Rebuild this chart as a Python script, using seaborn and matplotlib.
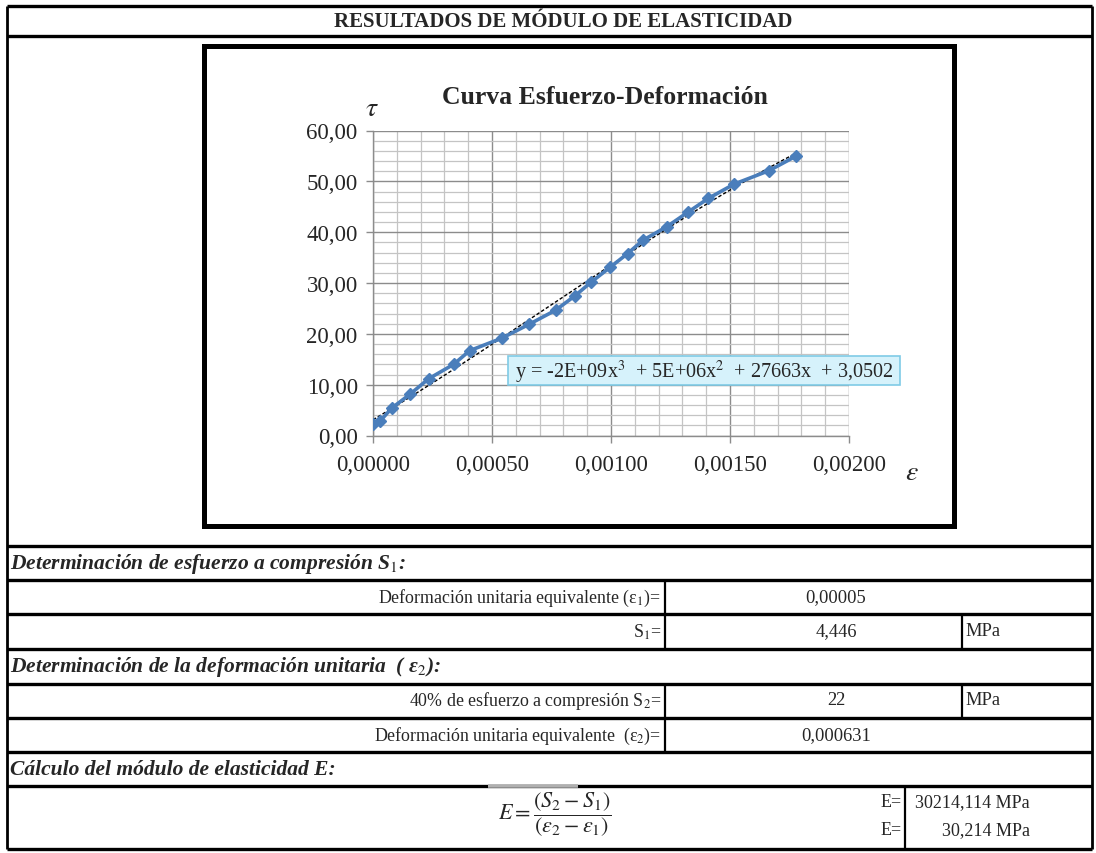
import numpy as np
import matplotlib
matplotlib.use("Agg")
import matplotlib.pyplot as plt
from matplotlib.patches import Rectangle
from matplotlib.ticker import FuncFormatter, MultipleLocator
import seaborn as sns

# Stress-strain test readings
strain = [0.0, 0.000029, 0.000079, 0.000155, 0.000234, 0.000339, 0.000406,
          0.000540, 0.000656, 0.000767, 0.000848, 0.000918, 0.000995, 0.001070,
          0.001135, 0.001234, 0.001322, 0.001409, 0.001518, 0.001664, 0.001776]
stress = [2.3, 2.8, 5.4, 8.1, 11.17, 14.0, 16.69, 19.12, 21.88, 24.64, 27.46,
          30.22, 33.05, 35.8, 38.44, 41.06, 43.89, 46.65, 49.47, 52.1, 54.93]

x_ticks = [0.0, 0.0005, 0.0010, 0.0015, 0.0020]
y_ticks = [0, 10, 20, 30, 40, 50, 60]

trend_label = "y = -2E+09x$^{3}$  + 5E+06x$^{2}$  + 27663x  + 3,0502"

# Summary table contents
sheet_title = "RESULTADOS DE MÓDULO DE ELASTICIDAD"
chart_title = "Curva Esfuerzo-Deformación"
section_1 = "Determinación de esfuerzo a compresión S$_{\\mathit{1}}$:"
section_2 = "Determinación de la deformación unitaria  ( ε$_{\\mathit{2}}$):"
section_3 = "Cálculo del módulo de elasticidad E:"
row_labels = ["Deformación unitaria equivalente (ε$_{1}$)=",
              "S$_{1}$=",
              "40% de esfuerzo a compresión S$_{2}$=",
              "Deformación unitaria equivalente  (ε$_{2}$)="]
row_values = ["0,00005", "4,446", "22", "0,000631"]
row_units = ["", "MPa", "MPa", ""]
modulus_values = ["30214,114 MPa", "30,214 MPa"]

sns.set_theme(style="white")
plt.rcParams["font.family"] = ["Liberation Serif", "DejaVu Serif"]
plt.rcParams["mathtext.fontset"] = "stix"

W, H = 1096, 854
fig = plt.figure(figsize=(W / 100, H / 100), dpi=100)
fig.patch.set_facecolor("white")

# Chart
x0p, x1p, y0p, y1p = 373, 849, 131.5, 436.5
ax = fig.add_axes([x0p / W, 1 - y1p / H, (x1p - x0p) / W, (y1p - y0p) / H])
ax.set_facecolor("white")

coef = np.polyfit(strain, stress, 3)
xs = np.linspace(0, max(strain), 200)
ax.plot(xs, np.polyval(coef, xs), color="black", lw=1.0, ls=(0, (2.5, 1.5)), zorder=4)

sns.lineplot(x=strain, y=stress, ax=ax, color="#4a7ebb", lw=2.6, marker="D",
             markersize=6.5, markeredgecolor="#4a7ebb", markeredgewidth=1,
             zorder=5, sort=False)

ax.set_xlim(0, 0.002)
ax.set_ylim(0, 60)
ax.xaxis.set_minor_locator(MultipleLocator(0.0001))
ax.yaxis.set_minor_locator(MultipleLocator(2))
ax.set_xticks(x_ticks)
ax.set_yticks(y_ticks)
ax.xaxis.set_major_formatter(FuncFormatter(lambda v, p: f"{v:.5f}".replace(".", ",")))
ax.yaxis.set_major_formatter(FuncFormatter(lambda v, p: f"{v:.2f}".replace(".", ",")))
ax.grid(which="major", color="#8c8c8c", lw=1.0)
ax.grid(which="minor", color="#c4c4c4", lw=0.9)
ax.set_axisbelow(True)
for s in ["top", "right"]:
    ax.spines[s].set_visible(False)
for s in ["left", "bottom"]:
    ax.spines[s].set_color("#8c8c8c")
    ax.spines[s].set_linewidth(1.0)
ax.tick_params(which="major", direction="out", length=5, width=1, color="#8c8c8c",
               labelsize=16.5, bottom=True, left=True)
ax.tick_params(axis="x", pad=8)
ax.tick_params(axis="y", pad=6)
ax.tick_params(which="minor", length=0)
ax.set_xlabel("")
ax.set_ylabel("")

# Overlay in pixel units for the sheet grid, text and labels (drawn above the chart)
sheet = fig.add_axes([0, 0, 1, 1])
sheet.set_xlim(0, W)
sheet.set_ylim(H, 0)
sheet.axis("off")
sheet.set_zorder(5)

L, R = 7, 1092
def hline(y, x0=L, x1=R, lw=2.4, color="black"):
    sheet.plot([x0, x1], [y, y], color=color, lw=lw, solid_capstyle="butt")
def vline(x, y0, y1, lw=1.6):
    sheet.plot([x, x], [y0, y1], color="black", lw=lw, solid_capstyle="butt")

for y in [7, 37, 547, 581, 615, 650, 685, 719, 753, 787, 850]:
    hline(y)
vline(L, 7, 850, lw=2.0)
vline(R, 7, 850, lw=2.0)
for y0, y1 in [(581, 615), (615, 650), (685, 719), (719, 753)]:
    vline(665, y0, y1)
for y0, y1 in [(615, 650), (685, 719)]:
    vline(962, y0, y1)
vline(905, 787, 850)
hline(787, 488, 578, lw=2.6, color="#b0b0b0")

sheet.text(563, 22, sheet_title, ha="center", va="center",
           fontsize=15, fontweight="bold")

hdr = dict(ha="left", va="center", fontsize=15.5, fontweight="bold", fontstyle="italic")
sheet.text(10, 564, section_1, **hdr)
sheet.text(10, 667, section_2, **hdr)
sheet.text(10, 770, section_3, **hdr)

row_y = [598, 632, 701, 736]
for y, lab, val, unit in zip(row_y, row_labels, row_values, row_units):
    sheet.text(661, y, lab, ha="right", va="center", fontsize=12.9)
    sheet.text(836, y, val, ha="center", va="center", fontsize=13.3)
    if unit:
        sheet.text(965, y, unit, ha="left", va="center", fontsize=13.3)

sheet.text(555, 815,
           r"$E=\dfrac{(S_2-S_1)}{(\varepsilon_2-\varepsilon_1)}$",
           ha="center", va="center", fontsize=16)
for y, val in zip([803, 831], modulus_values):
    sheet.text(902, y, "E=", ha="right", va="center", fontsize=13)
    sheet.text(1030, y, val, ha="right", va="center", fontsize=13)

# Chart frame
sheet.add_patch(Rectangle((204, 47), 750, 480, fill=False, ec="black", lw=3.6,
                          joinstyle="miter"))

sheet.text(605, 97, chart_title, ha="center", va="center", fontsize=18.5,
           fontweight="bold")
sheet.text(372, 110, r"$\tau$", ha="center", va="center", fontsize=20)
sheet.text(912, 474, r"$\varepsilon$", ha="center", va="center", fontsize=20)

# Trendline equation label
sheet.add_patch(Rectangle((508, 357), 392, 29, fc="#d6f2fb", ec="#7fcbe6", lw=1.2,
                          zorder=6))
sheet.text(704, 372, trend_label, ha="center", va="center", fontsize=14.5, zorder=7)

fig.savefig("out.png", dpi=100)
